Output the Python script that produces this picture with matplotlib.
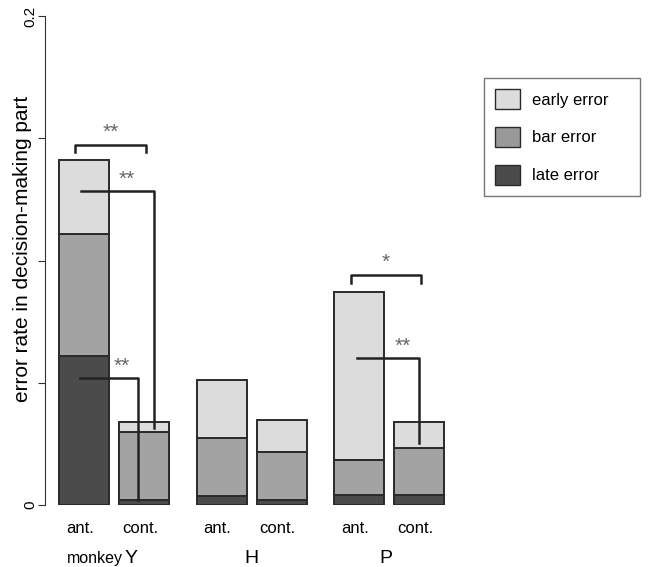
import numpy as np
import matplotlib
matplotlib.use("Agg")
import matplotlib.pyplot as plt
from matplotlib.patches import Patch, Rectangle

plt.rcParams['font.family'] = ['Liberation Sans', 'DejaVu Sans']

# data
conditions = ['ant.', 'cont.', 'ant.', 'cont.', 'ant.', 'cont.']
monkeys = ['Y', 'H', 'P']
late_error = [0.061, 0.002, 0.0037, 0.002, 0.004, 0.004]
bar_error = [0.050, 0.028, 0.0237, 0.0197, 0.0143, 0.0193]
early_error = [0.030, 0.004, 0.0237, 0.0131, 0.0687, 0.0107]

# bar centres (R barplot style spacing)
xpos = np.array([0.5, 1.7, 3.25, 4.45, 6.0, 7.2])

c_early = '#dcdcdc'
c_bar = '#a3a3a3'
c_late = '#4b4b4b'
edge = '#2a2a2a'

fig = plt.figure(figsize=(6.54, 5.67), dpi=100)
ax = fig.add_axes([45 / 654, 62 / 567, 415 / 654, 489 / 567])

late = np.array(late_error)
bar = np.array(bar_error)
early = np.array(early_error)
kw = dict(width=1.0, edgecolor=edge, linewidth=1.4)
ax.bar(xpos, late, color=c_late, **kw)
ax.bar(xpos, bar, bottom=late, color=c_bar, **kw)
ax.bar(xpos, early, bottom=late + bar, color=c_early, **kw)

ax.set_xlim(-0.28, 8.02)
ax.set_ylim(0, 0.2)
for s in ['top', 'right', 'bottom']:
    ax.spines[s].set_visible(False)
ax.spines['left'].set_bounds(0, 0.2)
ax.spines['left'].set_color('#333333')
ax.set_xticks([])
ax.set_yticks([0, 0.05, 0.1, 0.15, 0.2])
ax.set_yticklabels(['0', '', '', '', '0.2'], rotation=90, va='center', fontsize=11)
ax.tick_params(axis='y', length=5, color='#333333', pad=0.5)
ax.set_ylabel('error rate in decision-making part', fontsize=15)
ax.yaxis.set_label_coords(-13 / 415, 0.523)

# condition and monkey labels
for x, lab in zip(xpos, conditions):
    ax.text(x - 0.08, -0.0098, lab, ha='center', va='center', fontsize=12, clip_on=False)
ax.text(0.16, -0.022, 'monkey', ha='left', va='center', fontsize=11.5, clip_on=False)
group_x = [1.45, 3.85, 6.54]
for gx, m in zip(group_x, monkeys):
    ax.text(gx, -0.022, m, ha='center', va='center', fontsize=14, clip_on=False)

lc = '#222222'
lw = 1.8
star_c = '#666666'

# brackets: (x1, x2, y, tick, label)
brackets = [(0.32, 1.74, 0.1472, 0.003, '**'), (5.84, 7.24, 0.0941, 0.0033, '*')]
for x1, x2, y, d, lab in brackets:
    ax.plot([x1, x1, x2, x2], [y - d, y, y, y - d], color=lc, lw=lw, clip_on=False)
    ax.text((x1 + x2) / 2, y + 0.0012, lab, ha='center', va='bottom', fontsize=15, color=star_c)

# elbow lines: (x1, x2, y, yend, star x, label)
elbows = [(0.44, 1.9, 0.1284, 0.0315, 1.36, '**'),
          (0.42, 1.58, 0.0519, 0.002, 1.26, '**'),
          (5.96, 7.2, 0.0601, 0.0254, 6.88, '**')]
for x1, x2, y, y2, sx, lab in elbows:
    ax.plot([x1, x2, x2], [y, y, y2], color=lc, lw=lw, clip_on=False)
    ax.text(sx, y + 0.0010, lab, ha='center', va='bottom', fontsize=15, color=star_c)

# legend, box drawn separately so it can be wider than its entries
handles = [Patch(facecolor=c_early, edgecolor=edge, label='early error'),
           Patch(facecolor='#999999', edgecolor=edge, label='bar error'),
           Patch(facecolor=c_late, edgecolor=edge, label='late error')]
leg = fig.legend(handles=handles, loc='upper left', bbox_to_anchor=(495 / 654, 1 - 89 / 567),
                 fontsize=12, frameon=False, handlelength=1.5, handleheight=1.5,
                 labelspacing=1.05, borderpad=0, handletextpad=0.7, borderaxespad=0)
fig.patches.append(Rectangle((484 / 654, 1 - 196 / 567), 156 / 654, 118 / 567,
                             transform=fig.transFigure, fill=False,
                             edgecolor='#777777', linewidth=1.0))

fig.savefig('out.png', dpi=100)
